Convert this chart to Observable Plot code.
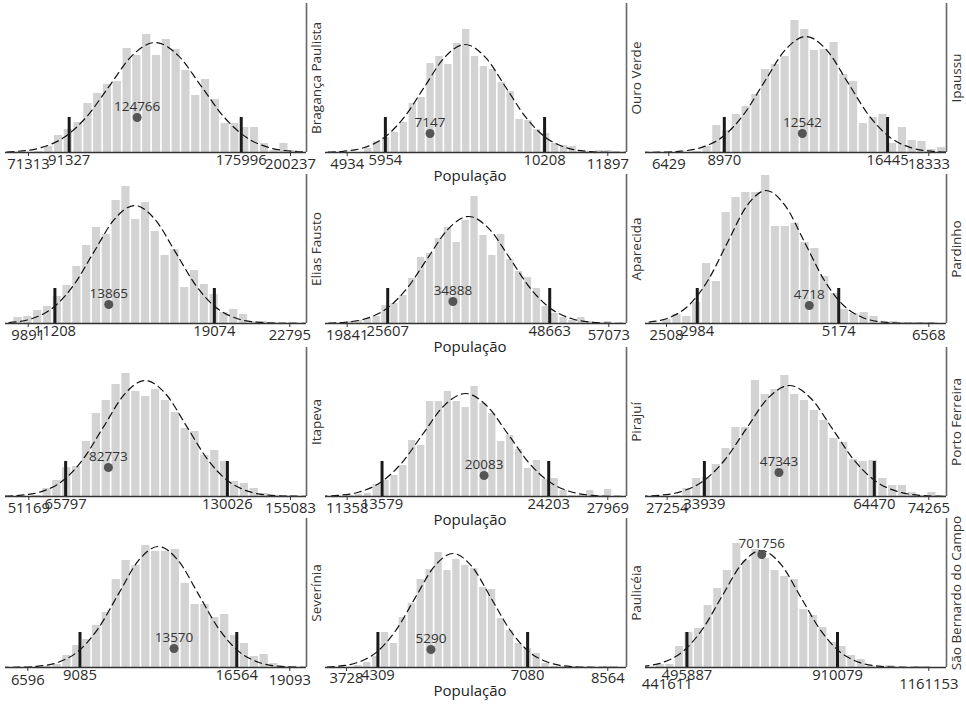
<!DOCTYPE html>
<html><head><meta charset="utf-8">
<script src="https://cdn.jsdelivr.net/npm/d3@7"></script>
<script src="https://cdn.jsdelivr.net/npm/@observablehq/plot@0.6"></script>
<style>
html,body{margin:0;padding:0;background:#fff;}
#chart{position:relative;width:966px;height:706px;overflow:hidden;font-family:"Open Sans",sans-serif;}
#chart .cell{position:absolute;}
</style></head><body><div id="chart"></div>
<script>
const municipalities = ["Bragança Paulista", "Ouro Verde", "Ipaussu", "Elias Fausto", "Aparecida", "Pardinho", "Itapeva", "Pirajuí", "Porto Ferreira", "Severínia", "Paulicéia", "São Bernardo do Campo"];
const minValues = [71313, 4934, 6429, 9891, 19841, 2508, 51169, 11358, 27254, 6596, 3728, 441611];
const lowerValues = [91327, 5954, 8970, 11208, 25607, 2984, 65797, 13579, 33939, 9085, 4309, 495887];
const upperValues = [175996, 10208, 16445, 19074, 48663, 5174, 130026, 24203, 64470, 16564, 7080, 910079];
const maxValues = [200237, 11897, 18333, 22795, 57073, 6568, 155083, 27969, 74265, 19093, 8564, 1161153];
const observedValues = [124766, 7147, 12542, 13865, 34888, 4718, 82773, 20083, 47343, 13570, 5290, 701756];
const observedY = [35, 19, 19, 19, 22, 18, 29, 21, 24, 19, 18, 113];
const xDomains = [[59995, 208111], [4354, 12397], [5362, 19143], [8771, 23619], [16753, 59592], [2183, 6842], [41917, 161437], [9975, 29161], [23355, 77446], [5532, 19890], [3339, 8910], [381925, 1209837]];
const binStarts = [74020, 5378, 7509, 9151, 19599, 2441, 52519, 11250, 28152, 7288, 3863, 409430];
const binWidths = [4823, 237.8, 447.3, 483.4, 1266.5, 152.5, 3919, 567.3, 1761, 470.3, 165.1, 26322];
const binCounts = [
  [1, 6, 17, 23, 30, 49, 59, 68, 71, 104, 97, 118, 97, 113, 103, 82, 57, 73, 53, 29, 29, 25, 25, 9, 2, 9, 2],
  [4, 11, 15, 20, 30, 49, 55, 89, 96, 88, 109, 123, 96, 86, 83, 70, 61, 33, 32, 23, 19, 9, 7, 6, 1, 1, 2, 2],
  [1, 6, 27, 22, 38, 46, 58, 83, 88, 96, 132, 123, 102, 103, 110, 78, 71, 29, 35, 38, 9, 25, 12, 11, 3, 5],
  [6, 7, 13, 17, 27, 38, 57, 78, 96, 89, 123, 137, 104, 121, 92, 68, 74, 36, 53, 39, 29, 11, 14, 9, 2, 2, 1, 1, 1],
  [2, 3, 5, 7, 18, 20, 28, 45, 66, 70, 85, 96, 81, 103, 127, 88, 68, 89, 64, 52, 46, 35, 17, 10, 6, 3, 6, 2, 1, 2],
  [4, 9, 7, 21, 60, 42, 111, 126, 131, 131, 148, 97, 97, 100, 81, 75, 47, 30, 14, 10, 11, 7, 2, 2, 1, 1, 1, 1],
  [1, 8, 16, 29, 30, 55, 83, 96, 112, 123, 105, 100, 107, 96, 84, 68, 65, 41, 46, 35, 15, 13, 8, 3, 1, 1, 1],
  [1, 2, 3, 12, 16, 21, 31, 56, 51, 95, 95, 105, 95, 89, 110, 93, 83, 55, 61, 47, 28, 36, 17, 18, 6, 1, 1, 6, 1, 7],
  [1, 8, 18, 19, 32, 48, 69, 69, 116, 102, 107, 121, 102, 96, 86, 76, 58, 54, 37, 35, 36, 18, 11, 11, 4, 1, 4, 1],
  [1, 3, 12, 22, 28, 42, 55, 88, 107, 102, 122, 116, 116, 118, 84, 63, 63, 50, 53, 32, 24, 11, 13, 4, 1, 1],
  [2, 5, 11, 35, 24, 50, 64, 88, 98, 115, 97, 108, 102, 99, 80, 78, 49, 37, 24, 19, 14, 4, 1, 1, 1, 0, 0, 0, 1],
  [3, 3, 21, 35, 39, 62, 79, 97, 124, 107, 118, 109, 97, 91, 88, 58, 52, 40, 25, 21, 12, 8, 1, 1, 2, 0, 0, 1]
];
const curveX = [
  [32411, 54911, 66161, 77411, 88661, 99911, 111161, 122411, 133661, 144911, 156161, 167411, 178661, 189911, 201161, 212411, 234911],
  [3199, 4284, 4826, 5369, 5911, 6454, 6996, 7539, 8081, 8624, 9166, 9709, 10251, 10794, 11336, 11879, 12964],
  [4126, 6033, 6986, 7940, 8893, 9847, 10800, 11754, 12707, 13661, 14614, 15568, 16521, 17475, 18428, 19382, 21289],
  [6110, 8117, 9120, 10124, 11127, 12131, 13134, 14138, 15141, 16145, 17148, 18152, 19155, 20159, 21162, 22166, 24173],
  [10666, 16548, 19489, 22430, 25371, 28312, 31253, 34194, 37135, 40076, 43017, 45958, 48899, 51840, 54781, 57722, 63604],
  [1350, 1950, 2250, 2550, 2850, 3150, 3450, 3750, 4050, 4350, 4650, 4950, 5250, 5550, 5850, 6150, 6750],
  [23667, 40053, 48245, 56437, 64630, 72822, 81015, 89207, 97400, 105592, 113785, 121977, 130170, 138362, 146555, 154747, 171133],
  [6696, 9406, 10761, 12116, 13471, 14826, 16181, 17536, 18891, 20246, 21601, 22956, 24311, 25666, 27021, 28376, 31086],
  [14154, 21942, 25837, 29731, 33626, 37520, 41415, 45309, 49204, 53099, 56993, 60888, 64782, 68677, 72571, 76466, 84254],
  [4239, 6147, 7101, 8055, 9009, 9963, 10917, 11871, 12825, 13779, 14733, 15687, 16641, 17595, 18549, 19503, 21411],
  [2519, 3226, 3579, 3933, 4286, 4640, 4993, 5347, 5700, 6054, 6407, 6761, 7114, 7468, 7821, 8175, 8882],
  [214000, 322000, 376000, 430000, 484000, 538000, 592000, 646000, 700000, 754000, 808000, 862000, 916000, 970000, 1024000, 1078000, 1186000]
];
const curveY = [
  [0, 0.2, 1.2, 4.8, 14.9, 35.7, 66.7, 97.1, 110, 97.1, 66.7, 35.7, 14.9, 4.8, 1.2, 0.2, 0],
  [0, 0.2, 1.2, 4.7, 14.6, 35.1, 65.5, 95.3, 108, 95.3, 65.5, 35.1, 14.6, 4.7, 1.2, 0.2, 0],
  [0, 0.3, 1.3, 5.1, 15.7, 37.7, 70.4, 102.4, 116, 102.4, 70.4, 37.7, 15.7, 5.1, 1.3, 0.3, 0],
  [0, 0.3, 1.3, 5.2, 16.0, 38.3, 71.6, 104.1, 118, 104.1, 71.6, 38.3, 16.0, 5.2, 1.3, 0.3, 0],
  [0, 0.2, 1.2, 4.7, 14.5, 34.7, 64.9, 94.4, 107, 94.4, 64.9, 34.7, 14.5, 4.7, 1.2, 0.2, 0],
  [0, 0.3, 1.5, 5.8, 18.0, 43.2, 80.7, 117.4, 133, 117.4, 80.7, 43.2, 18.0, 5.8, 1.5, 0.3, 0],
  [0, 0.3, 1.3, 5.1, 15.7, 37.7, 70.4, 102.4, 116, 102.4, 70.4, 37.7, 15.7, 5.1, 1.3, 0.3, 0],
  [0, 0.2, 1.1, 4.5, 13.9, 33.4, 62.5, 90.9, 103, 90.9, 62.5, 33.4, 13.9, 4.5, 1.1, 0.2, 0],
  [0, 0.2, 1.2, 4.9, 15.0, 36.0, 67.3, 98.0, 111, 98.0, 67.3, 36.0, 15.0, 4.9, 1.2, 0.2, 0],
  [0, 0.3, 1.3, 5.3, 16.4, 39.3, 73.4, 106.8, 121, 106.8, 73.4, 39.3, 16.4, 5.3, 1.3, 0.3, 0],
  [0, 0.3, 1.3, 5.0, 15.4, 37.0, 69.1, 100.6, 114, 100.6, 69.1, 37.0, 15.4, 5.0, 1.3, 0.3, 0],
  [0, 0.3, 1.3, 5.1, 15.8, 38.0, 71.0, 103.3, 117, 103.3, 71.0, 38.0, 15.8, 5.1, 1.3, 0.3, 0]
];
const intervalBarHeight = 35;
const yMax = 149;
const xLabel = "População";

const fmt = d3.format("d");
const chart = document.getElementById("chart");
const rowTops = [0, 171, 344, 515];
const colLefts = [0, 320, 640];
// extra vertical offset of the outer (min/max) tick labels, by panel
const outerLabelDy = [12, 12, 12, 12, 12, 12, 12, 12, 12, 13, 11, 17];

municipalities.forEach((name, i) => {
  const row = Math.floor(i / 3), col = i % 3;
  const bins = binCounts[i].map((c, k) => ({x1: binStarts[i] + k * binWidths[i], x2: binStarts[i] + (k + 1) * binWidths[i], count: c}));
  const curve = curveX[i].map((x, k) => ({x, y: curveY[i][k]}));
  const interval = [lowerValues[i], upperValues[i]].map(v => ({v}));
  const outer = [minValues[i], maxValues[i]].map(v => ({v}));
  const obs = [{x: observedValues[i], y: observedY[i]}];
  const marks = [
    Plot.rectY(bins, {x1: "x1", x2: "x2", y: "count", fill: "#d3d3d3", insetLeft: 0.8, insetRight: 0.8}),
    Plot.line(curve, {x: "x", y: "y", stroke: "#111", strokeWidth: 1.2, strokeDasharray: "7,4.5", curve: "monotone-x", clip: true}),
    Plot.ruleY([0], {stroke: "#333", strokeWidth: 1.5}),
    Plot.ruleX([xDomains[i][1]], {stroke: "#666", strokeWidth: 1.6}),
    Plot.ruleX(interval, {x: "v", y1: 0, y2: intervalBarHeight, stroke: "#1a1a1a", strokeWidth: 3}),
    Plot.ruleX(outer, {x: "v", y1: 0, y2: 0, insetBottom: -4, stroke: "#333", strokeWidth: 1}),
    Plot.text(outer, {x: "v", y: 0, dy: outerLabelDy[i], text: d => fmt(d.v), fontSize: 14.8, lineAnchor: "middle", fill: "#2a2a2a"}),
    Plot.text(interval, {x: "v", y: 0, dy: 8, text: d => fmt(d.v), fontSize: 14.8, lineAnchor: "middle", fill: "#2a2a2a"}),
    Plot.dot(obs, {x: "x", y: "y", r: 4.5, fill: "#555"}),
    Plot.text(obs, {x: "x", y: "y", dy: -11, text: d => fmt(d.x), fontSize: 13.5, lineAnchor: "middle", fill: "#333"}),
    Plot.text([name], {frameAnchor: "right", rotate: -90, dx: 10, textAnchor: "middle", lineAnchor: "middle", fontSize: 13.5, fill: "#333"})
  ];
  if (col === 1) marks.push(Plot.text([xLabel], {frameAnchor: "bottom", dy: 24, dx: -6, lineAnchor: "middle", fontSize: 15, fill: "#222"}));
  const svg = Plot.plot({
    width: 320, height: 175,
    marginTop: 3, marginBottom: 23, marginLeft: 5, marginRight: 14,
    x: {domain: xDomains[i], axis: null},
    y: {domain: [0, yMax], axis: null},
    style: {background: "none", overflow: "visible", fontFamily: "'Open Sans', sans-serif", fontSize: "14px", color: "#222"},
    marks
  });
  const cell = document.createElement("div");
  cell.className = "cell";
  cell.style.left = colLefts[col] + "px";
  cell.style.top = rowTops[row] + "px";
  cell.appendChild(svg);
  chart.appendChild(cell);
});
</script></body></html>
